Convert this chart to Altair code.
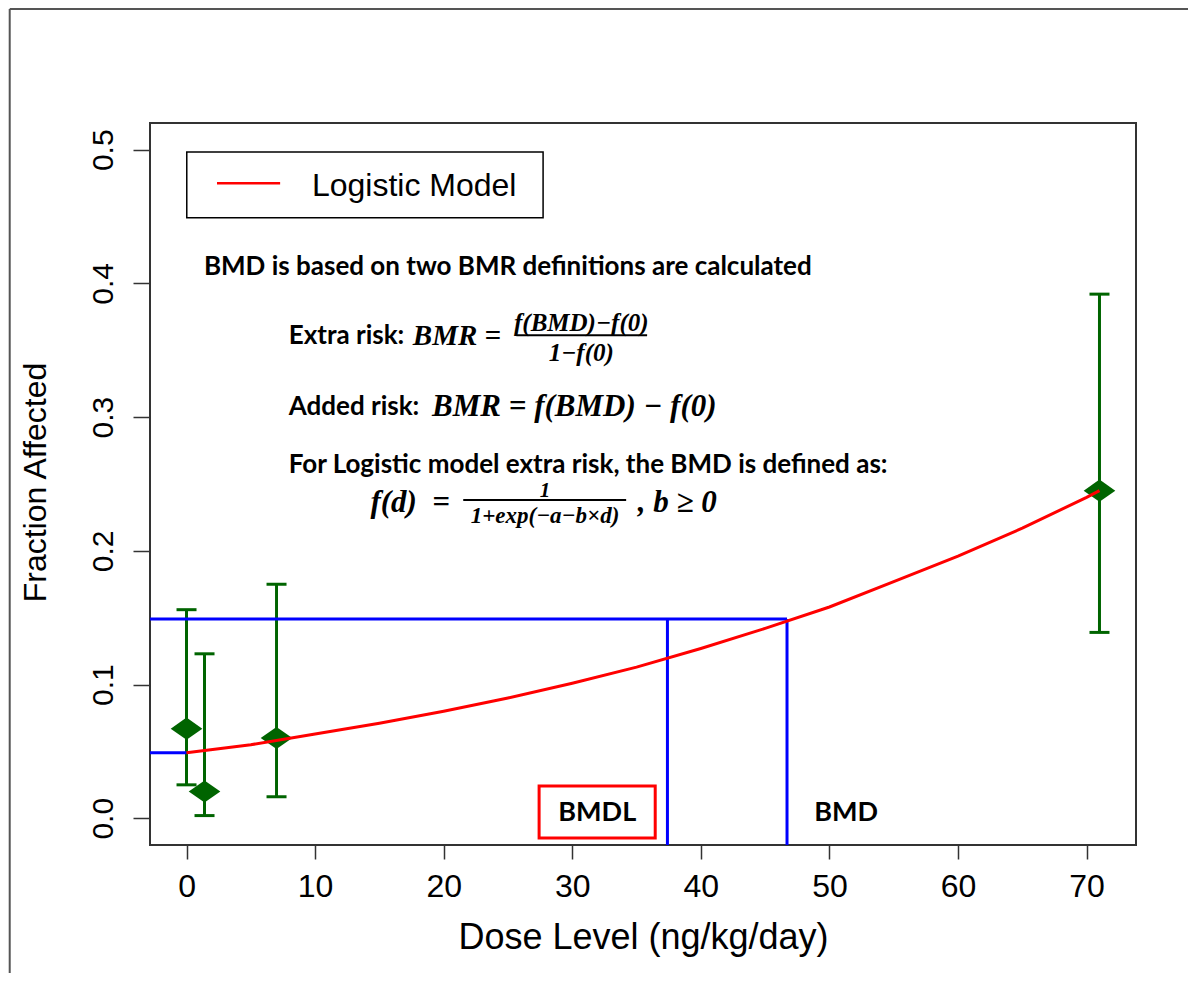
import altair as alt
import pandas as pd

dose = [0.0, 1.4, 7.0, 71.0]
frac = [0.067, 0.020, 0.060, 0.245]
lower = [0.025, 0.002, 0.016, 0.139]
upper = [0.156, 0.123, 0.175, 0.392]

# ---- fitted logistic curve ----
curve_dose = [0, 5, 10, 15, 20, 25, 30, 35, 40, 45, 50, 55, 60, 65, 70, 71]
curve_frac = [0.049, 0.055, 0.063, 0.071, 0.080, 0.090, 0.101, 0.113,
              0.127, 0.142, 0.158, 0.177, 0.196, 0.217, 0.240, 0.245]

bmdl = 37.4
bmd = 46.7
bmr_level = 0.149
background = 0.049

x_ticks = [0, 10, 20, 30, 40, 50, 60, 70]
y_ticks = [0.0, 0.1, 0.2, 0.3, 0.4, 0.5]
x_dom = [-2.84, 73.84]
y_dom = [-0.02, 0.52]

# annotation texts
txt_plain = ["BMD is based on two BMR definitions are calculated",
             "Extra risk:", "Added risk:",
             "For Logistic model extra risk, the BMD is defined as:"]
txt_plain_x = [1.35, 7.95, 7.95, 7.95]
txt_plain_y = [0.4123, 0.3608, 0.3075, 0.2640]

txt_math = ["BMR =", "BMR = f(BMD) − f(0)", "f(d)\u00a0\u00a0=", ", b ≥ 0"]
txt_math_x = [17.6, 19.1, 14.3, 35.1]
txt_math_y = [0.3608, 0.3075, 0.2358, 0.2358]
txt_math_size = [29, 31, 31, 31]

txt_frac = ["f(BMD)−f(0)", "1−f(0)"]
txt_frac_x = [30.7, 30.7]
txt_frac_y = [0.3705, 0.3480]

txt_frac2 = ["1", "1+exp(−a−b×d)"]
txt_frac2_x = [27.88, 27.88]
txt_frac2_y = [0.2450, 0.2262]
txt_frac2_size = [21, 23]

bar_x = [25.65, 21.52]
bar_x2 = [35.82, 34.19]
bar_y = [0.3612, 0.2381]


def mx(field="x"):
    return alt.X(f"{field}:Q", scale=alt.Scale(domain=x_dom, nice=False, zero=False),
                 axis=alt.Axis(values=x_ticks, title="Dose Level (ng/kg/day)", format="d",
                               titleX=493, titleY=92, titleBaseline="middle",
                               titleAlign="center", labelPadding=12, tickSize=14,
                               labelFontSize=32, titleFontSize=36))


def my(field="y"):
    return alt.Y(f"{field}:Q", scale=alt.Scale(domain=y_dom, nice=False, zero=False),
                 axis=alt.Axis(values=y_ticks, title="Fraction Affected", format=".1f",
                               labelAngle=-90, labelAlign="center", labelBaseline="alphabetic",
                               labelPadding=21, tickSize=17, labelFontSize=30,
                               titleFontSize=32, titleAngle=-90, titleX=-115, titleY=359,
                               titleBaseline="middle", titleAlign="center"))


X = mx()
Y = my()

obs = pd.DataFrame({"x": dose, "y": frac, "lo": lower, "hi": upper})
cur = pd.DataFrame({"x": curve_dose, "y": curve_frac})

green = "#006400"

err = alt.Chart(obs).mark_rule(color=green, strokeWidth=3).encode(x=X, y=my("lo"), y2="hi")
cap_hi = alt.Chart(obs).mark_tick(color=green, orient="horizontal", size=20, thickness=3,
                                  opacity=1).encode(x=X, y=my("hi"))
cap_lo = alt.Chart(obs).mark_tick(color=green, orient="horizontal", size=20, thickness=3,
                                  opacity=1).encode(x=X, y=my("lo"))
pts = alt.Chart(obs).mark_point(shape="M-1,0L0,-0.7L1,0L0,0.7Z", filled=True, color=green,
                                 size=1000, opacity=1).encode(x=X, y=Y)

blue_h = alt.Chart(pd.DataFrame({"x": [x_dom[0], x_dom[0]], "x2": [bmd, 0.0],
                                 "y": [bmr_level, background]})).mark_rule(
    color="#0000FF", strokeWidth=3).encode(x=X, x2="x2", y=Y)
blue_v = alt.Chart(pd.DataFrame({"x": [bmdl, bmd], "y": [y_dom[0], y_dom[0]],
                                 "y2": [bmr_level, bmr_level]})).mark_rule(
    color="#0000FF", strokeWidth=3).encode(x=X, y=Y, y2="y2")

curve = alt.Chart(cur).mark_line(color="#FF0000", strokeWidth=3).encode(x=X, y=Y)

# legend box
leg_box = alt.Chart(pd.DataFrame({"x": [0.02], "x2": [27.73], "y": [0.4984], "y2": [0.4491]})).mark_rect(
    fill="white", stroke="black", strokeWidth=1.5).encode(x=X, x2="x2", y=Y, y2="y2")
leg_line = alt.Chart(pd.DataFrame({"x": [2.37], "x2": [7.28], "y": [0.4750]})).mark_rule(
    color="#FF0000", strokeWidth=2.5).encode(x=X, x2="x2", y=Y)
leg_txt = alt.Chart(pd.DataFrame({"x": [9.75], "y": [0.4729], "t": ["Logistic Model"]})).mark_text(
    align="left", baseline="middle", font="Liberation Sans", fontSize=32, color="black").encode(
    x=X, y=Y, text="t:N")

# annotation text
plain = alt.Chart(pd.DataFrame({"x": txt_plain_x, "y": txt_plain_y, "t": txt_plain})).mark_text(
    align="left", baseline="middle", font="Lato", fontWeight="bold", fontSize=26, color="black").encode(
    x=X, y=Y, text="t:N")
math = alt.Chart(pd.DataFrame({"x": txt_math_x, "y": txt_math_y, "t": txt_math,
                               "s": txt_math_size})).mark_text(
    align="left", baseline="middle", font="Liberation Serif", fontWeight="bold", fontStyle="italic",
    color="black").encode(x=X, y=Y, text="t:N", size=alt.Size("s:Q", scale=None, legend=None))
fracs = alt.Chart(pd.DataFrame({"x": txt_frac_x, "y": txt_frac_y, "t": txt_frac})).mark_text(
    align="center", baseline="middle", font="Liberation Serif", fontWeight="bold", fontStyle="italic",
    fontSize=25, color="black").encode(x=X, y=Y, text="t:N")
fracs2 = alt.Chart(pd.DataFrame({"x": txt_frac2_x, "y": txt_frac2_y, "t": txt_frac2,
                                 "s": txt_frac2_size})).mark_text(
    align="center", baseline="middle", font="Liberation Serif", fontWeight="bold", fontStyle="italic",
    color="black").encode(x=X, y=Y, text="t:N", size=alt.Size("s:Q", scale=None, legend=None))
bars = alt.Chart(pd.DataFrame({"x": bar_x, "x2": bar_x2, "y": bar_y})).mark_rule(
    color="black", strokeWidth=2).encode(x=X, x2="x2", y=Y)

# BMDL / BMD labels
bmdl_box = alt.Chart(pd.DataFrame({"x": [27.42], "x2": [36.45], "y": [0.0241], "y2": [-0.0148]})).mark_rect(
    fill="white", stroke="#FF0000", strokeWidth=3).encode(x=X, x2="x2", y=Y, y2="y2")
bm_txt = alt.Chart(pd.DataFrame({"x": [31.94, 51.3], "y": [0.004, 0.004], "t": ["BMDL", "BMD"]})).mark_text(
    align="center", baseline="middle", font="Lato", fontWeight="bold", fontSize=27, color="black").encode(
    x=X, y=Y, text="t:N")

# outer frame of the figure
frame_v = alt.Chart(pd.DataFrame({"x": [-13.75], "y": [0.6053], "y2": [-0.13]})).mark_rule(
    color="#555555", strokeWidth=2).encode(x=X, y=Y, y2="y2")
frame_h = alt.Chart(pd.DataFrame({"x": [-13.75], "x2": [80.0], "y": [0.6053]})).mark_rule(
    color="#555555", strokeWidth=2).encode(x=X, x2="x2", y=Y)

chart = alt.layer(
    frame_v, frame_h,
    err, cap_hi, cap_lo, pts, blue_h, blue_v, curve,
    leg_box, leg_line, leg_txt,
    plain, math, fracs, fracs2, bars,
    bmdl_box, bm_txt,
).properties(
    width=986, height=722,
    padding={"left": 142, "top": 115, "right": 52, "bottom": 128},
    autosize=alt.AutoSizeParams(type="none"),
).configure_view(
    stroke="#333333", strokeWidth=2
).configure_axis(
    grid=False, domain=False, ticks=True, tickWidth=1.5, tickColor="#333333",
    labelFont="Liberation Sans", labelColor="black",
    titleFont="Liberation Sans", titleFontWeight="normal", titleColor="black",
)

chart.save("out.html", embed_options={"renderer": "svg", "actions": False})
